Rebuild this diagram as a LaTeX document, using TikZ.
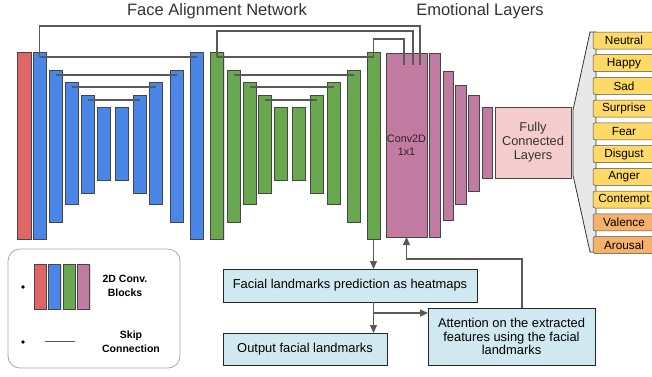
\documentclass[tikz,border=0pt]{standalone}
\usepackage{fontspec}
\setmainfont{Liberation Sans}
\usetikzlibrary{positioning, arrows.meta, shadows}
\definecolor{convred}{HTML}{E06666}
\definecolor{convblue}{HTML}{4A86E8}
\definecolor{convgreen}{HTML}{6AA84F}
\definecolor{convpink}{HTML}{C27BA0}
\definecolor{fcpink}{HTML}{F4CCCC}
\definecolor{infoblue}{HTML}{D0E8F0}
\definecolor{emoyellow}{HTML}{FFD966}
\definecolor{emoorange}{HTML}{F6B26B}
\definecolor{linegray}{HTML}{595959}
\tikzset{
    blk/.style={ % one 2D conv block
        draw=gray!55!black, line width=.6pt,
        inner sep=0pt, outer sep=0pt, minimum width=13pt,
        drop shadow={shadow xshift=1pt, shadow yshift=-1pt, opacity=.25}
    },
    infobox/.style={
        draw=gray!30!black, line width=.8pt, fill=infoblue,
        inner sep=2pt, outer sep=0pt, align=center,
        font=\fontsize{12.9}{13.6}\selectfont,
        drop shadow={shadow xshift=1pt, shadow yshift=-1pt, opacity=.3}
    },
    emobox/.style={
        draw=gray!60!black, line width=.5pt, rounded corners=2pt,
        fill=emoyellow, minimum width=62pt, minimum height=17pt,
        inner sep=0pt, font=\fontsize{11.8}{12}\selectfont
    },
    skip/.style={draw=linegray, line width=1.2pt},
    arr/.style={draw=linegray, line width=1.2pt, -{Triangle[length=8pt,width=7pt]}}
}
\begin{document}
\begin{tikzpicture}[x=1pt,y=-1pt]
    \useasboundingbox (0,0) rectangle (652,376);
    % titles
    \node[font=\fontsize{16.5}{18}\selectfont, text=black!80] (fantitle) at (217,11) {Face Alignment Network};
    \node[font=\fontsize{16.5}{18}\selectfont, text=black!80] (emotitle) at (480,11) {Emotional Layers};

    % face alignment network
    \node[blk,fill=convred,minimum width=14pt,minimum height=187pt] (r1) at (24,145.5) {};
    \foreach \n/\cx/\ty/\by in {1/39.5/52/239, 2/55.5/70/222, 3/71.5/82/204, 4/87.5/95/193, 5/103.5/107/180,
        6/121.5/107/180, 7/139.5/95/193, 8/155.5/82/204, 9/176.5/70/222, 10/196.5/52/239}
        \node[blk,fill=convblue,minimum height={(\by-\ty)*1pt}] (b\n) at (\cx,{(\ty+\by)/2}) {};
    \foreach \n/\cx/\ty/\by in {1/217/52/239, 2/233.5/70/222, 3/249.5/82/204, 4/264.5/95/193, 5/280.5/107/180,
        6/298.5/107/180, 7/316.5/95/193, 8/333.5/82/204, 9/353.5/70/222, 10/373.5/52/239}
        \node[blk,fill=convgreen,minimum height={(\by-\ty)*1pt}] (g\n) at (\cx,{(\ty+\by)/2}) {};

    % emotional layers
    \node[blk,fill=convpink,minimum width=41pt,minimum height=184pt,align=center,
        font=\fontsize{10.8}{13}\selectfont,text=convpink!25!black] (p1) at (406.5,145) {Conv2D\\1x1};
    \foreach \n/\cx/\w/\ty/\by in {2/434.5/11/53/237, 3/448/10/71/220, 4/460.5/11/85/204,
        5/473.5/11/95/191, 6/487/10/107/178}
        \node[blk,fill=convpink,minimum width=\w pt,minimum height={(\by-\ty)*1pt}] (p\n) at (\cx,{(\ty+\by)/2}) {};
    \node[blk,fill=fcpink,minimum width=76pt,minimum height=71pt,align=center,
        font=\fontsize{12.8}{14}\selectfont,text=black!80] (fc) at (533,142.5) {Fully\\Connected\\Layers};

    % skip connections
    \foreach \i/\j in {1/10,2/9,3/8,4/7} {
        \draw[skip] ([yshift=-5pt]b\i.north) -- ([yshift=-5pt]b\j.north);
        \draw[skip] ([yshift=-5pt]g\i.north) -- ([yshift=-5pt]g\j.north);
    }
    \draw[skip] ([yshift=-5pt]b1.north) -- (b1.north |- 0,26) -| ([xshift=13.5pt,yshift=-12pt]p1.north);
    \draw[skip] ([yshift=-5pt]g1.north) -- (g1.north |- 0,31) -| ([xshift=6.5pt,yshift=-12pt]p1.north);
    \draw[skip] ([yshift=-5pt]g10.north) -- (g10.north |- 0,39) -| ([xshift=-2.5pt,yshift=-12pt]p1.north);

    % outputs
    \draw[draw=gray!40!black, line width=.8pt, fill=gray!18]
        (573,110) -- (590,32) -- (596,32) -- (596,252) -- (590,252) -- (573,175) -- cycle;
    \foreach \lbl [count=\k] in {Neutral,Happy,Sad,Surprise,Fear,Disgust,Anger,Contempt}
        \node[emobox] (o\k) at (624,{40.5+(\k-1)*22.72}) {\lbl};
    \node[emobox,fill=emoorange] (o9) at (624,222.3) {Valence};
    \node[emobox,fill=emoorange] (o10) at (624,245) {Arousal};

    % landmark branch
    \node[infobox,minimum width=254pt,minimum height=33pt] (hm) at (350,285.5) {Facial landmarks prediction as heatmaps};
    \node[infobox,minimum width=164pt,minimum height=32pt] (out) at (305,349) {Output facial landmarks};
    \node[infobox,minimum width=167pt,minimum height=57pt] (att) at (511.5,336.5)
        {Attention on the extracted\\features using the facial\\landmarks};
    \coordinate (split) at ([yshift=-11pt]hm.south -| g10.south);
    \draw[arr] (g10.south) -- (hm.north -| g10.south);
    \draw[arr] (hm.south -| g10.south) -- (out.north -| g10.south);
    \draw[arr] (split) -- (split -| att.west);
    \draw[arr] ([xshift=10.5pt]att.north) |- ([yshift=-22pt]p1.south) -- (p1.south);

    % legend
    \node[draw=gray!70, line width=.8pt, rounded corners=12pt, minimum width=172pt, minimum height=119pt] (leg) at (94,308.5) {};
    \fill[black] (23,287) circle (1.8pt) (23,342) circle (1.8pt);
    \foreach \c [count=\k] in {convred,convblue,convgreen,convpink}
        \node[blk,fill=\c,minimum width=12pt,minimum height=45pt] (l\k) at ({40+(\k-1)*14.5},286.5) {};
    \node[font=\bfseries\fontsize{10.5}{14}\selectfont, align=center] (legconv) at (125,286) {2D Conv.\\Blocks};
    \coordinate (skipa) at (45,341);
    \coordinate (skipb) at (75,341);
    \draw[linegray, line width=1pt] (skipa) -- (skipb);
    \node[font=\bfseries\fontsize{10.5}{14}\selectfont, align=center] (legskip) at (131,342) {Skip\\Connection};
\end{tikzpicture}
\end{document}
